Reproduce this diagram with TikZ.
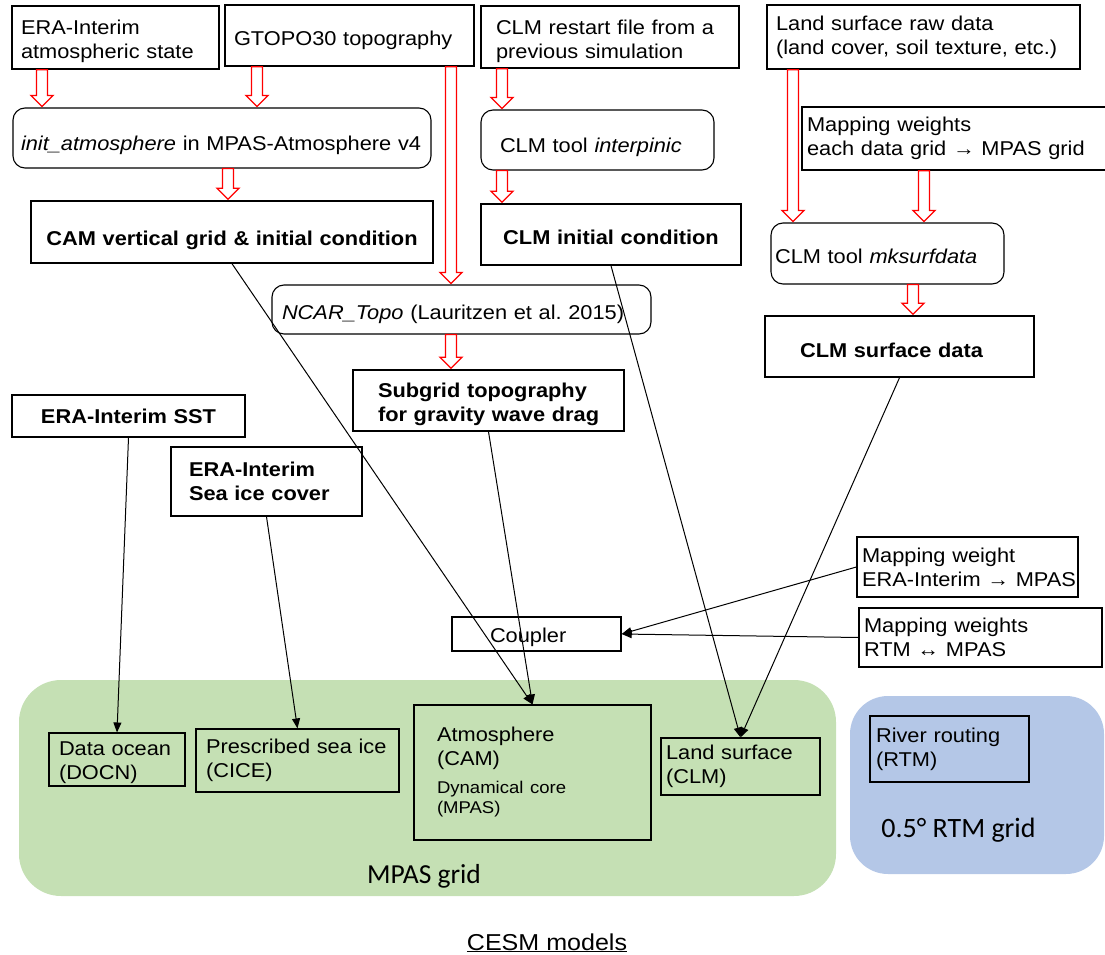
\documentclass[tikz,border=0pt]{standalone}
\usepackage{fontspec}
\setmainfont[FakeStretch=1.09]{Liberation Sans}
\newfontfamily\gridfont{Carlito}
\usetikzlibrary{arrows.meta,calc}
\definecolor{gridgreen}{HTML}{C5E0B4}
\definecolor{gridblue}{HTML}{B4C7E7}

% open red block arrow: x position, source node, target node
\newcommand{\hollow}[3]{%
  \draw[hollowarrow] let \p1=(#1,0 |- #2.south), \p2=(#1,0 |- #3.north) in
    (\x1-5.5pt,\y1) -- (\x1-5.5pt,\y2+12pt) -- (\x1-11pt,\y2+12pt) -- (\x1,\y2+1pt)
    -- (\x1+11pt,\y2+12pt) -- (\x1+5.5pt,\y2+12pt) -- (\x1+5.5pt,\y1) -- cycle;}

\begin{document}
\begin{tikzpicture}[x=1pt, y=-1pt]
      \tikzstyle{box} = [draw, line width=1.4pt, inner ysep=0pt, align=left,
        font=\fontsize{20}{24}\selectfont]
      \tikzstyle{heavy} = [box, align=center, font=\fontsize{20}{24}\selectfont\bfseries]
      \tikzstyle{tool} = [box, rounded corners=12pt, line width=1.1pt]
      \tikzstyle{unit} = [box, line width=1.1pt]
      \tikzstyle{drop} = [execute at begin node={\rule{0pt}{#1}}]
      \tikzstyle{region} = [rounded corners=42pt, inner sep=0pt]
      \tikzstyle{link} = [-{Triangle[length=10pt,width=8pt]}, line width=1pt]
      \tikzstyle{hollowarrow} = [red, line width=1.3pt, fill=white, line join=miter]
      \useasboundingbox (0,0) rectangle (1105,955);
      % grids
      \node (mpas) [region, fill=gridgreen, minimum width=817pt, minimum height=216pt] at (427.5,788) {};
      \node (rtmgrid) [region, fill=gridblue, rounded corners=38pt, minimum width=254pt, minimum height=178pt] at (977,785) {};
      \node (mpaslabel) [anchor=base, font=\gridfont\fontsize{27.5}{32}\selectfont] at (424,883) {MPAS grid};
      \node (rtmlabel) [anchor=base, font=\gridfont\fontsize{28}{32}\selectfont] at (958.5,837) {0.5° RTM grid};
      % input data and tools
      \node (era) [box, drop=22.6pt, text width=189pt, inner xsep=9pt, minimum height=63pt] at (115.5,37.5)
        {\mbox{ERA-Interim}\\\mbox{atmospheric state}};
      \node (gtopo) [box, drop=24.6pt, text width=231pt, inner xsep=9pt, minimum height=61pt] at (349.5,35.5)
        {\mbox{GTOPO30 topography}};
      \node (init) [tool, drop=28.6pt, text width=402pt, inner xsep=8pt, minimum height=60pt] at (222,138)
        {\mbox{\emph{init\_atmosphere} in MPAS-Atmosphere v4}};
      \node (camic) [heavy, drop=30.6pt, text width=390pt, inner xsep=6pt, minimum height=62pt] at (232,232)
        {\mbox{CAM vertical grid \& initial condition}};
      \node (restart) [box, drop=22.6pt, text width=228pt, inner xsep=15pt, minimum height=62pt] at (610,37)
        {\mbox{CLM restart file from a}\\\mbox{previous simulation}};
      \node (interp) [tool, drop=28.6pt, text width=195pt, inner xsep=19pt, minimum height=60pt] at (597.5,140)
        {\mbox{CLM tool \emph{interpinic}}};
      \node (clmic) [heavy, drop=20.6pt, text width=248pt, inner xsep=6pt, minimum height=61pt] at (611,234.5)
        {\mbox{CLM initial condition}};
      \node (raw) [box, text width=295pt, inner xsep=9pt, minimum height=64pt] at (923.5,37)
        {\mbox{Land surface raw data}\\\mbox{(land cover, soil texture, etc.)}};
      \node (mapw) [box, text width=298pt, inner xsep=5pt, minimum height=63pt] at (956,138.5)
        {\mbox{Mapping weights}\\\mbox{each data grid → MPAS grid}};
      \node (mksurf) [tool, drop=20.6pt, text width=225pt, inner xsep=4pt, minimum height=61pt] at (887.5,253.5)
        {\mbox{CLM tool \emph{mksurfdata}}};
      \node (ncar) [tool, drop=24.6pt, text width=359pt, inner xsep=10pt, minimum height=49pt] at (461.5,309.5)
        {\mbox{\emph{NCAR\_Topo} (Lauritzen et al.\ 2015)}};
      \node (clmsd) [heavy, drop=22.6pt, align=left, text width=199pt, inner xsep=35pt, minimum height=61pt] at (899.5,346.5)
        {\mbox{CLM surface data}};
      \node (subgrid) [heavy, drop=22.6pt, align=left, text width=221pt, inner xsep=25pt, minimum height=61pt] at (488.5,400.5)
        {\mbox{Subgrid topography}\\\mbox{for gravity wave drag}};
      \node (sst) [heavy, text width=221pt, inner xsep=6pt, minimum height=42pt] at (128.5,416)
        {\mbox{ERA-Interim SST}};
      \node (seaice) [heavy, align=left, text width=155pt, inner xsep=18pt, minimum height=69pt] at (266.5,481.5)
        {\mbox{ERA-Interim}\\\mbox{Sea ice cover}};
      \node (mwera) [box, text width=211pt, inner xsep=5pt, minimum height=60pt] at (967.5,567)
        {\mbox{Mapping weight}\\\mbox{ERA-Interim → MPAS}};
      \node (coupler) [box, drop=20.6pt, text width=93pt, inner xsep=38pt, minimum height=34pt] at (536.5,634)
        {\mbox{Coupler}};
      \node (mwrtm) [box, text width=233pt, inner xsep=5pt, minimum height=59pt] at (980.5,637.5)
        {\mbox{Mapping weights}\\\mbox{RTM ↔ MPAS}};
      % model components
      \node (docn) [unit, drop=20.6pt, text width=116pt, inner xsep=10pt, minimum height=53pt] at (117,759.5)
        {\mbox{Data ocean}\\\mbox{(DOCN)}};
      \node (cice) [unit, text width=183pt, inner xsep=10pt, minimum height=63pt] at (297.5,760.5)
        {\mbox{Prescribed sea ice}\\\mbox{(CICE)}};
      \node (atm) [unit, text width=191pt, inner xsep=23pt, minimum height=135pt] at (532.5,772.5)
        {\mbox{Atmosphere}\\\mbox{(CAM)}\\[8pt]\fontsize{17}{20}\selectfont\mbox{Dynamical core}\\[-4pt]\mbox{(MPAS)}};
      \node (land) [unit, text width=149pt, inner xsep=5pt, minimum height=57pt] at (740.5,766.5)
        {\mbox{Land surface}\\\mbox{(CLM)}};
      \node (rtm) [unit, text width=147pt, inner xsep=6pt, minimum height=66pt] at (949.5,749)
        {\mbox{River routing}\\\mbox{(RTM)}};
      \node (cesm) [anchor=base, font=\fontsize{23}{27}\selectfont] at (547,950) {\underline{CESM models}};
      % preprocessing steps
      \hollow{42}{era}{init}
      \hollow{257}{gtopo}{init}
      \hollow{228}{init}{camic}
      \hollow{451}{gtopo}{ncar}
      \hollow{451}{ncar}{subgrid}
      \hollow{502}{restart}{interp}
      \hollow{502}{interp}{clmic}
      \hollow{793}{raw}{mksurf}
      \hollow{924}{mapw}{mksurf}
      \hollow{913}{mksurf}{clmsd}
      % inputs to the models
      \draw[link] (camic.south) -- (atm.north);
      \draw[link] (subgrid.south) -- (atm.north);
      \draw[link] (clmic.south) -- (land.north);
      \draw[link] (clmsd.south) -- (land.north);
      \draw[link] (sst.south) -- (docn.north);
      \draw[link] (seaice.south) -- (cice.north);
      \draw[link] (mwera.west) -- (coupler.east);
      \draw[link] (mwrtm.west) -- (coupler.east);
\end{tikzpicture}
\end{document}
